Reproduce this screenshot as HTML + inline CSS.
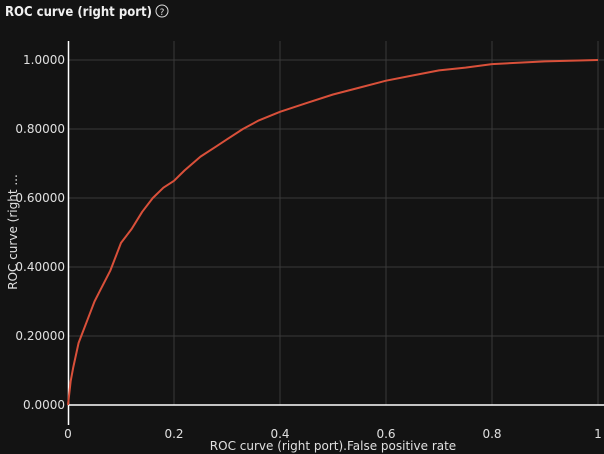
<!DOCTYPE html>
<html><head><meta charset="utf-8"><style>
html,body{margin:0;padding:0;background:#131313;width:604px;height:454px;overflow:hidden;font-family:"Liberation Sans","DejaVu Sans",sans-serif;}
</style></head><body>
<svg id="chart" width="604" height="454" xmlns="http://www.w3.org/2000/svg">
<text x="5" y="16" fill="#f0f0f0" font-size="13" font-weight="bold" font-family="DejaVu Sans, sans-serif" textLength="147" lengthAdjust="spacingAndGlyphs">ROC curve (right port)</text>
<g><circle cx="162" cy="11" r="6" fill="none" stroke="#ddd" stroke-width="1"/><text x="162" y="15" fill="#ddd" font-size="9" text-anchor="middle" font-family="DejaVu Sans, sans-serif">?</text></g>
<g id="grid"></g><g id="axes"></g><g id="series"></g>
<text x="333" y="450" fill="#e0e0e0" font-size="12" text-anchor="middle" font-family="DejaVu Sans, sans-serif">ROC curve (right port).False positive rate</text>
<text transform="translate(17,232) rotate(-90)" fill="#e0e0e0" font-size="12" text-anchor="middle" font-family="DejaVu Sans, sans-serif">ROC curve (right ...</text>
</svg>
<script>
const xTicks=[0,0.2,0.4,0.6,0.8,1];
const xTickLabels=["0","0.2","0.4","0.6","0.8","1"];
const yTicks=[0,0.2,0.4,0.6,0.8,1];
const yTickLabels=["0.0000","0.20000","0.40000","0.60000","0.80000","1.0000"];
const fpr=[0,0.005,0.01,0.02,0.03,0.04,0.05,0.06,0.08,0.1,0.12,0.14,0.16,0.18,0.2,0.22,0.25,0.28,0.3,0.33,0.36,0.4,0.45,0.5,0.55,0.6,0.65,0.7,0.75,0.8,0.9,1];
const tpr=[0,0.07,0.11,0.18,0.22,0.26,0.30,0.33,0.39,0.47,0.51,0.56,0.60,0.63,0.65,0.68,0.72,0.75,0.77,0.80,0.825,0.85,0.875,0.90,0.92,0.94,0.955,0.97,0.978,0.988,0.996,1];
const NS="http://www.w3.org/2000/svg";
const X=v=>68+v*530, Y=v=>405-v*345;
function mk(t,a,p){const e=document.createElementNS(NS,t);for(const k in a)e.setAttribute(k,a[k]);p.appendChild(e);return e;}
const g=document.getElementById('grid'),ax=document.getElementById('axes'),s=document.getElementById('series');
xTicks.forEach((v,i)=>{
 if(v>0){const l=mk('line',{x1:X(v),x2:X(v),y1:41,y2:405,stroke:'#3a3a3a'},g);
 
 }
 const t=mk('text',{x:X(v),y:438,fill:'#e0e0e0','font-size':12,'text-anchor':'middle','font-family':'DejaVu Sans, sans-serif'},ax);t.textContent=xTickLabels[i];
 
 
});
yTicks.forEach((v,i)=>{
 if(v>0){const l=mk('line',{x1:68,x2:604,y1:Y(v),y2:Y(v),stroke:'#3a3a3a'},g);
 
 }
 const t=mk('text',{x:65,y:Y(v)+4,fill:'#e0e0e0','font-size':12,'text-anchor':'end','font-family':'DejaVu Sans, sans-serif'},ax);t.textContent=yTickLabels[i];
 
 
});
const xa=mk('line',{x1:68,x2:604,y1:405,y2:405,stroke:'#fff','stroke-width':1.5},ax);


const ya=mk('line',{x1:68.5,x2:68.5,y1:41,y2:425,stroke:'#fff','stroke-width':1.5},ax);


const d=fpr.map((v,i)=>(i?'L':'M')+X(v).toFixed(1)+','+Y(tpr[i]).toFixed(1)).join('');
const p=mk('path',{d:d,fill:'none',stroke:'#d9503a','stroke-width':2,'stroke-linejoin':'round'},s);


</script>
</body></html>
